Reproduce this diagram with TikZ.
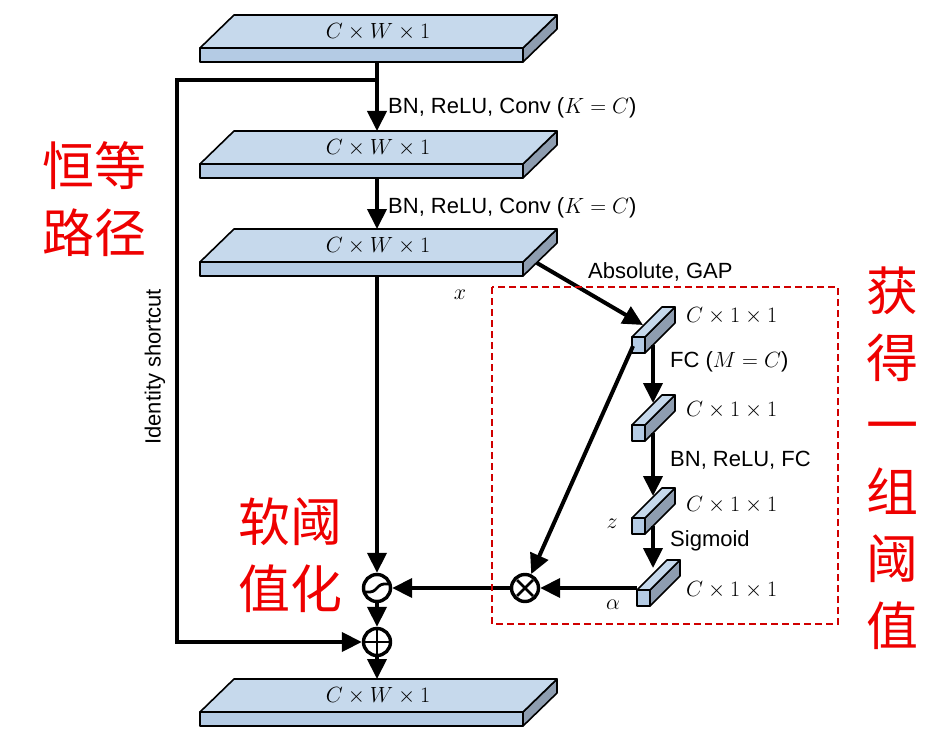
\RequirePackage{fix-cm}
\documentclass[tikz,border=0pt]{standalone}
\usepackage[no-math]{fontspec}
\setmainfont{Liberation Sans}
\newfontfamily\cjk{Noto Sans CJK SC}
\usetikzlibrary{arrows.meta,calc}
\definecolor{topc}{HTML}{C6D9EC}
\definecolor{frontc}{HTML}{B4CBE4}
\definecolor{sidec}{HTML}{8E9DB0}
\definecolor{cnred}{HTML}{EE0000}
\definecolor{boxred}{HTML}{D00000}
\tikzset{
  tipstyle/.style={-{Triangle[length=20pt,width=19pt]}},
  conn/.style={line width=4pt, tipstyle},
  plainline/.style={line width=4pt},
  lbl/.style={font=\fontsize{22}{26}\selectfont, inner sep=0pt},
  cn/.style={font=\fontsize{52}{67}\cjk, text=cnred, inner sep=0pt, align=center},
  opc/.style={circle, draw, line width=3.4pt, minimum size=27pt, inner sep=0pt},
  facet/.style={draw=black, line width=1.6pt, line join=round},
  sym/.style={line width=2.8pt},
}
\newcommand{\slabbox}[3]{%
  \filldraw[facet, fill=sidec] (#2+323,#3) -- ++(34,-33) -- ++(0,14) -- ++(-34,33) -- cycle;
  \filldraw[facet, fill=topc] (#2,#3) -- ++(34,-33) -- ++(323,0) -- ++(-34,33) -- cycle;
  \filldraw[facet, fill=frontc] (#2,#3) rectangle ++(323,14);
  \node[lbl] (#1) at (#2+178,#3-16) {$C\times W\times 1$};
  \coordinate (#1-top) at (377,#3-33);
  \coordinate (#1-bot) at (377,#3+14);
}
\newcommand{\blockbox}[3]{%
  \filldraw[facet, fill=sidec] (#2+13,#3) -- ++(30,-30) -- ++(0,16) -- ++(-30,30) -- cycle;
  \filldraw[facet, fill=topc] (#2,#3) -- ++(30,-30) -- ++(13,0) -- ++(-30,30) -- cycle;
  \filldraw[facet, fill=frontc] (#2,#3) rectangle ++(13,16);
  \coordinate (#1-top) at (653,#3-22);
  \coordinate (#1-bot) at (653,#3+8);
}
\begin{document}
\begin{tikzpicture}[x=1pt,y=-1pt]
\useasboundingbox (0,0) rectangle (944,738);

% slabs
\slabbox{s1}{200}{48}
\slabbox{s2}{200}{164}
\slabbox{s3}{200}{262}
\slabbox{s4}{200}{712}

% small blocks
\blockbox{b1}{632}{337}
\blockbox{b2}{632}{425}
\blockbox{b3}{632}{518}
\blockbox{b4}{637}{590}

% operators
\node[opc] (soft) at (377,588) {};
\node[opc] (mul) at (525,588) {};
\node[opc] (add) at (377,642) {};
\begin{scope}[shift={(soft.center)}]
  \draw[sym, rounded corners=3pt] (-12,4) -- (-4,4) -- (4,-4) -- (12,-4);
\end{scope}
\begin{scope}[shift={(mul.center)}]
  \draw[sym] (-8,-8) -- (8,8) (-8,8) -- (8,-8);
\end{scope}
\begin{scope}[shift={(add.center)}]
  \draw[sym] (-13,0) -- (13,0) (0,-13) -- (0,13);
\end{scope}

% main path
\draw[conn] (s1-bot) -- (s2-top);
\draw[conn] (s2-bot) -- (s3-top);
\draw[conn] (s3-bot) -- (soft);
\draw[conn] (soft) -- (add);
\draw[conn] (add) -- (s4-top);

% shortcut
\coordinate (sc1) at (377,80);
\coordinate (sc2) at (177,80);
\coordinate (sc3) at (177,642);
\draw[plainline, tipstyle, line join=miter] (sc1) -- (sc2) -- (sc3) -- (add);

% threshold branch
\coordinate (s3-side) at (537,263);
\coordinate (b1-in) at (643,325);
\draw[conn] (s3-side) -- (b1-in);
\draw[conn] (b1-bot) -- (b2-top);
\draw[conn] (b2-bot) -- (b3-top);
\draw[conn] (b3-bot) -- (b4-top);
\coordinate (b4-out) at (637,588);
\draw[conn] (b4-out) -- (mul);
\coordinate (b1-out) at (633,346);
\draw[conn] (b1-out) -- (mul);
\draw[conn] (mul) -- (soft);

% dashed box
\draw[boxred, line width=1.8pt, dash pattern=on 7pt off 4pt] (492,287) rectangle (838,624);

% labels
\node[lbl, anchor=west] (l1) at (388,108) {BN, ReLU, Conv ($K=C$)};
\node[lbl, anchor=west] (l2) at (388,208) {BN, ReLU, Conv ($K=C$)};
\node[lbl] (lx) at (460,295) {$x$};
\node[lbl, anchor=west] (lgap) at (588,272) {Absolute, GAP};
\node[lbl, anchor=west] (c1) at (686,316) {$C\times 1\times 1$};
\node[lbl, anchor=west] (c2) at (686,410) {$C\times 1\times 1$};
\node[lbl, anchor=west] (c3) at (686,505) {$C\times 1\times 1$};
\node[lbl, anchor=west] (c4) at (686,590) {$C\times 1\times 1$};
\node[lbl, anchor=west] (lfc) at (670,362) {FC ($M=C$)};
\node[lbl, anchor=west] (lbn) at (670,460) {BN, ReLU, FC};
\node[lbl, anchor=west] (lsig) at (670,541) {Sigmoid};
\node[lbl] (lz) at (612,524) {$z$};
\node[lbl] (la) at (613,605) {$\alpha$};
\node[lbl, rotate=90] (lid) at (155,367) {Identity shortcut};

% Chinese annotations
\node[cn] (cn1) at (94,199) {恒等\\路径};
\node[cn] (cn2) at (290,555) {软阈\\值化};
\node[cn] (cn3) at (892,458) {获\\得\\一\\组\\阈\\值};
\end{tikzpicture}
\end{document}
